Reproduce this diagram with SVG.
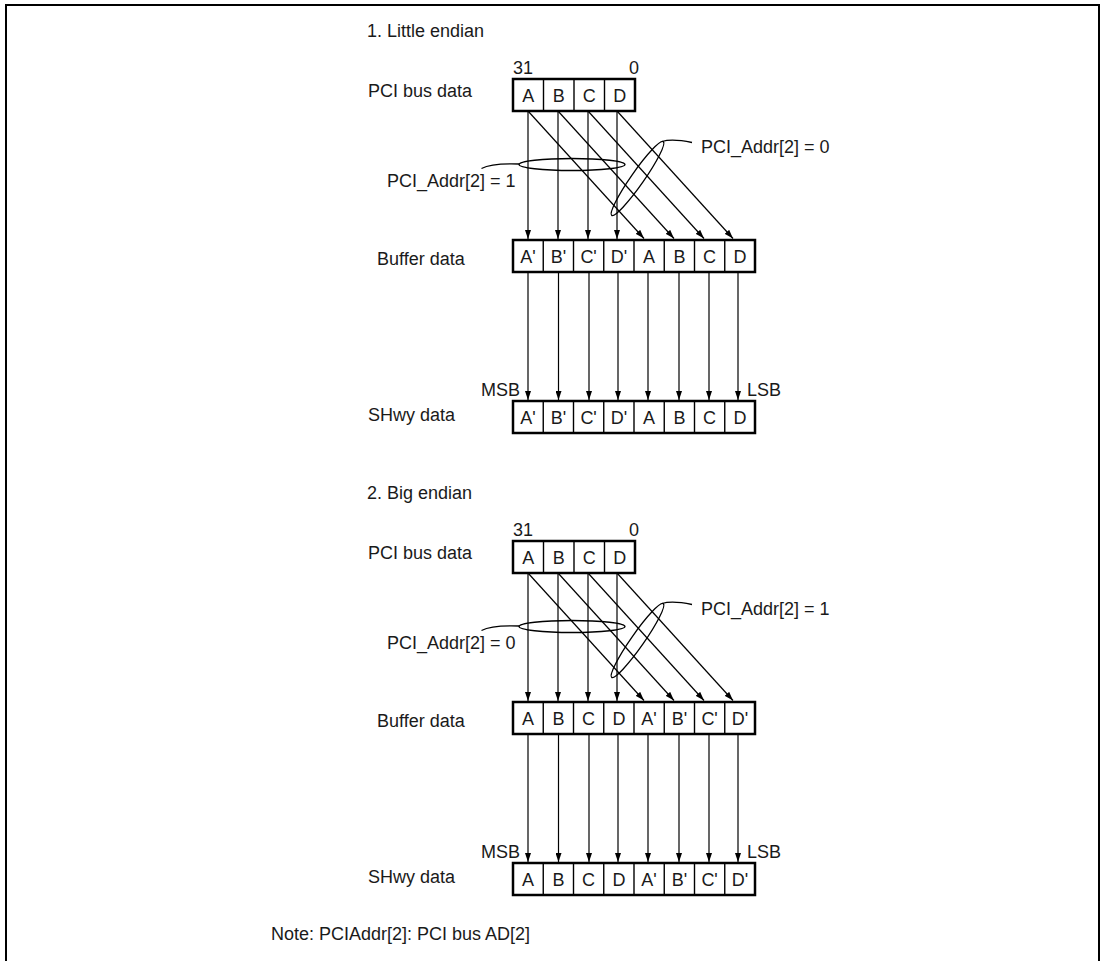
<svg xmlns="http://www.w3.org/2000/svg" width="1105" height="961" viewBox="0 0 1105 961">
<defs>
<marker id="ah" markerWidth="9" markerHeight="6" refX="9" refY="3" orient="auto" markerUnits="userSpaceOnUse"><path d="M0,0 L9,3 L0,6 z" fill="#000"/></marker>
<style>
text{font-family:"Liberation Sans",Arial,sans-serif;fill:#1a1a1a;font-size:18px}
.title{font-size:18px}
.cell{text-anchor:middle}
.box{fill:#fff;stroke:#000;stroke-width:2.5}
.div{stroke:#000;stroke-width:1.4}
.conn line{stroke:#000;stroke-width:1.2}
.arr{marker-end:url(#ah)}
.ell{fill:none;stroke:#000;stroke-width:1.3}
</style>
</defs>
<rect width="1105" height="961" fill="#fff"/>
<path d="M6,961 V5 H1099 V961" fill="none" stroke="#000" stroke-width="2"/>

<!-- Section 1 -->
<g id="section1">
<text class="title" x="367" y="37">1. Little endian</text>
<g id="pci1">
<text x="368" y="97">PCI bus data</text>
<text x="513" y="74">31</text>
<text x="629" y="74">0</text>
<rect class="box" x="513" y="79" width="122" height="32"/>
<line class="div" x1="543.5" y1="79" x2="543.5" y2="111"/>
<line class="div" x1="574" y1="79" x2="574" y2="111"/>
<line class="div" x1="604.5" y1="79" x2="604.5" y2="111"/>
<text class="cell" x="528.3" y="101.5">A</text>
<text class="cell" x="558.8" y="101.5">B</text>
<text class="cell" x="589.3" y="101.5">C</text>
<text class="cell" x="619.8" y="101.5">D</text>
</g>
<g id="buf1">
<text x="377" y="265">Buffer data</text>
<rect class="box" x="513" y="240" width="242" height="32"/>
<line class="div" x1="543.25" y1="240" x2="543.25" y2="272"/>
<line class="div" x1="573.5" y1="240" x2="573.5" y2="272"/>
<line class="div" x1="603.75" y1="240" x2="603.75" y2="272"/>
<line class="div" x1="634" y1="240" x2="634" y2="272"/>
<line class="div" x1="664.25" y1="240" x2="664.25" y2="272"/>
<line class="div" x1="694.5" y1="240" x2="694.5" y2="272"/>
<line class="div" x1="724.75" y1="240" x2="724.75" y2="272"/>
<text class="cell" x="528.1" y="262.5">A'</text>
<text class="cell" x="558.4" y="262.5">B'</text>
<text class="cell" x="588.6" y="262.5">C'</text>
<text class="cell" x="618.9" y="262.5">D'</text>
<text class="cell" x="649.1" y="262.5">A</text>
<text class="cell" x="679.4" y="262.5">B</text>
<text class="cell" x="709.6" y="262.5">C</text>
<text class="cell" x="739.9" y="262.5">D</text>
</g>
<g id="shwy1">
<text x="368" y="421">SHwy data</text>
<text x="481" y="396">MSB</text>
<text x="747" y="396">LSB</text>
<rect class="box" x="513" y="401" width="242" height="32"/>
<line class="div" x1="543.25" y1="401" x2="543.25" y2="433"/>
<line class="div" x1="573.5" y1="401" x2="573.5" y2="433"/>
<line class="div" x1="603.75" y1="401" x2="603.75" y2="433"/>
<line class="div" x1="634" y1="401" x2="634" y2="433"/>
<line class="div" x1="664.25" y1="401" x2="664.25" y2="433"/>
<line class="div" x1="694.5" y1="401" x2="694.5" y2="433"/>
<line class="div" x1="724.75" y1="401" x2="724.75" y2="433"/>
<text class="cell" x="528.1" y="423.5">A'</text>
<text class="cell" x="558.4" y="423.5">B'</text>
<text class="cell" x="588.6" y="423.5">C'</text>
<text class="cell" x="618.9" y="423.5">D'</text>
<text class="cell" x="649.1" y="423.5">A</text>
<text class="cell" x="679.4" y="423.5">B</text>
<text class="cell" x="709.6" y="423.5">C</text>
<text class="cell" x="739.9" y="423.5">D</text>
</g>
<g id="sel1a">
<ellipse class="ell" cx="572" cy="164.5" rx="53" ry="6"/>
<path class="ell" d="M519,164 C505,163.5 490,164 481.5,168.5"/>
<text x="387" y="187">PCI_Addr[2] = 1</text>
</g>
<g id="sel1b">
<ellipse class="ell" cx="637.5" cy="178.5" rx="45" ry="6.5" transform="rotate(-55 637.5 178.5)"/>
<path class="ell" d="M662,141.5 C670,139 680,140 692,142.5"/>
<text x="701" y="153">PCI_Addr[2] = 0</text>
</g>
</g>

<!-- Section 2 -->
<g id="section2" transform="translate(0,462)">
<text class="title" x="367" y="37">2. Big endian</text>
<g id="pci2">
<text x="368" y="97">PCI bus data</text>
<text x="513" y="74">31</text>
<text x="629" y="74">0</text>
<rect class="box" x="513" y="79" width="122" height="32"/>
<line class="div" x1="543.5" y1="79" x2="543.5" y2="111"/>
<line class="div" x1="574" y1="79" x2="574" y2="111"/>
<line class="div" x1="604.5" y1="79" x2="604.5" y2="111"/>
<text class="cell" x="528.3" y="101.5">A</text>
<text class="cell" x="558.8" y="101.5">B</text>
<text class="cell" x="589.3" y="101.5">C</text>
<text class="cell" x="619.8" y="101.5">D</text>
</g>
<g id="buf2">
<text x="377" y="265">Buffer data</text>
<rect class="box" x="513" y="240" width="242" height="32"/>
<line class="div" x1="543.25" y1="240" x2="543.25" y2="272"/>
<line class="div" x1="573.5" y1="240" x2="573.5" y2="272"/>
<line class="div" x1="603.75" y1="240" x2="603.75" y2="272"/>
<line class="div" x1="634" y1="240" x2="634" y2="272"/>
<line class="div" x1="664.25" y1="240" x2="664.25" y2="272"/>
<line class="div" x1="694.5" y1="240" x2="694.5" y2="272"/>
<line class="div" x1="724.75" y1="240" x2="724.75" y2="272"/>
<text class="cell" x="528.1" y="262.5">A</text>
<text class="cell" x="558.4" y="262.5">B</text>
<text class="cell" x="588.6" y="262.5">C</text>
<text class="cell" x="618.9" y="262.5">D</text>
<text class="cell" x="649.1" y="262.5">A'</text>
<text class="cell" x="679.4" y="262.5">B'</text>
<text class="cell" x="709.6" y="262.5">C'</text>
<text class="cell" x="739.9" y="262.5">D'</text>
</g>
<g id="shwy2">
<text x="368" y="421">SHwy data</text>
<text x="481" y="396">MSB</text>
<text x="747" y="396">LSB</text>
<rect class="box" x="513" y="401" width="242" height="32"/>
<line class="div" x1="543.25" y1="401" x2="543.25" y2="433"/>
<line class="div" x1="573.5" y1="401" x2="573.5" y2="433"/>
<line class="div" x1="603.75" y1="401" x2="603.75" y2="433"/>
<line class="div" x1="634" y1="401" x2="634" y2="433"/>
<line class="div" x1="664.25" y1="401" x2="664.25" y2="433"/>
<line class="div" x1="694.5" y1="401" x2="694.5" y2="433"/>
<line class="div" x1="724.75" y1="401" x2="724.75" y2="433"/>
<text class="cell" x="528.1" y="423.5">A</text>
<text class="cell" x="558.4" y="423.5">B</text>
<text class="cell" x="588.6" y="423.5">C</text>
<text class="cell" x="618.9" y="423.5">D</text>
<text class="cell" x="649.1" y="423.5">A'</text>
<text class="cell" x="679.4" y="423.5">B'</text>
<text class="cell" x="709.6" y="423.5">C'</text>
<text class="cell" x="739.9" y="423.5">D'</text>
</g>
<g id="sel2a">
<ellipse class="ell" cx="572" cy="164.5" rx="53" ry="6"/>
<path class="ell" d="M519,164 C505,163.5 490,164 481.5,168.5"/>
<text x="387" y="187">PCI_Addr[2] = 0</text>
</g>
<g id="sel2b">
<ellipse class="ell" cx="637.5" cy="178.5" rx="45" ry="6.5" transform="rotate(-55 637.5 178.5)"/>
<path class="ell" d="M662,141.5 C670,139 680,140 692,142.5"/>
<text x="701" y="153">PCI_Addr[2] = 1</text>
</g>
</g>

<!-- Connectors -->
<g id="connectors" class="conn">
<g id="conn1">
<line class="arr" x1="528" y1="111" x2="528" y2="239"/>
<line class="arr" x1="558" y1="111" x2="558" y2="239"/>
<line class="arr" x1="588" y1="111" x2="588" y2="239"/>
<line class="arr" x1="617" y1="111" x2="617" y2="239"/>
<line class="arr" x1="528" y1="111" x2="644" y2="238.5"/>
<line class="arr" x1="558" y1="111" x2="674" y2="238.5"/>
<line class="arr" x1="588" y1="111" x2="704" y2="238.5"/>
<line class="arr" x1="617" y1="111" x2="733" y2="238.5"/>
<line class="arr" x1="528" y1="272" x2="528" y2="400"/>
<line class="arr" x1="558.5" y1="272" x2="558.5" y2="400"/>
<line class="arr" x1="589" y1="272" x2="589" y2="400"/>
<line class="arr" x1="618" y1="272" x2="618" y2="400"/>
<line class="arr" x1="648" y1="272" x2="648" y2="400"/>
<line class="arr" x1="679" y1="272" x2="679" y2="400"/>
<line class="arr" x1="709" y1="272" x2="709" y2="400"/>
<line class="arr" x1="738" y1="272" x2="738" y2="400"/>
</g>
<g id="conn2" transform="translate(0,462)">
<line class="arr" x1="528" y1="111" x2="528" y2="239"/>
<line class="arr" x1="558" y1="111" x2="558" y2="239"/>
<line class="arr" x1="588" y1="111" x2="588" y2="239"/>
<line class="arr" x1="617" y1="111" x2="617" y2="239"/>
<line class="arr" x1="528" y1="111" x2="644" y2="238.5"/>
<line class="arr" x1="558" y1="111" x2="674" y2="238.5"/>
<line class="arr" x1="588" y1="111" x2="704" y2="238.5"/>
<line class="arr" x1="617" y1="111" x2="733" y2="238.5"/>
<line class="arr" x1="528" y1="272" x2="528" y2="400"/>
<line class="arr" x1="558.5" y1="272" x2="558.5" y2="400"/>
<line class="arr" x1="589" y1="272" x2="589" y2="400"/>
<line class="arr" x1="618" y1="272" x2="618" y2="400"/>
<line class="arr" x1="648" y1="272" x2="648" y2="400"/>
<line class="arr" x1="679" y1="272" x2="679" y2="400"/>
<line class="arr" x1="709" y1="272" x2="709" y2="400"/>
<line class="arr" x1="738" y1="272" x2="738" y2="400"/>
</g>
</g>

<g id="note">
<text x="271" y="940">Note: PCIAddr[2]: PCI bus AD[2]</text>
</g>
</svg>
